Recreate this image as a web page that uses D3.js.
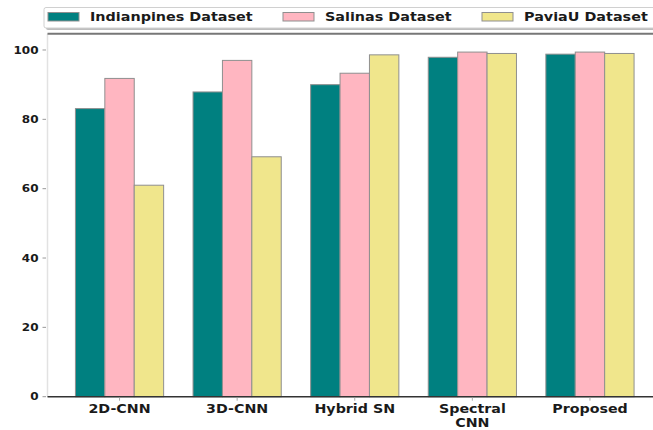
<!DOCTYPE html>
<html>
<head>
<meta charset="utf-8">
<script src="https://cdn.jsdelivr.net/npm/d3@7/dist/d3.min.js"></script>
<style>
  html, body { margin: 0; padding: 0; background: #fff; }
  svg { display: block; }
  text { font-family: "DejaVu Sans", sans-serif; font-weight: bold; fill: #1a1a1a; }
</style>
</head>
<body>
<svg id="chart" width="653" height="430"></svg>
<script>
// Accuracy (%) of each method on three hyperspectral datasets
const methods = ["2D-CNN", "3D-CNN", "Hybrid SN", "Spectral\nCNN", "Proposed"];
const seriesNames = ["Indianpines Dataset", "Salinas Dataset", "PaviaU Dataset"];
const indianpines = [83.1, 87.9, 90.0, 97.9, 98.8];
const salinas = [91.8, 97.0, 93.3, 99.4, 99.4];
const paviaU = [61.0, 69.2, 98.6, 99.0, 99.0];
const yTicks = [0, 20, 40, 60, 80, 100];
const colors = ["#008080", "#ffb6c1", "#f0e68c"];

const series = [indianpines, salinas, paviaU];
const barWidth = 0.25;
const textStretch = 1.2;

const svg = d3.select("#chart");

const x = d3.scaleLinear().domain([-0.6125, 4.6125]).range([47.5, 662]);
const y = d3.scaleLinear().domain([0, 104.7]).range([396.7, 33.7]);

// spines
svg.append("line").attr("x1", x.range()[0]).attr("x2", x.range()[0])
  .attr("y1", y.range()[0]).attr("y2", y.range()[1])
  .attr("stroke", "#e2e2e2").attr("stroke-width", 1.5);
svg.append("line").attr("x1", x.range()[0]).attr("x2", 653)
  .attr("y1", y.range()[1]).attr("y2", y.range()[1])
  .attr("stroke", "#777").attr("stroke-width", 2);

// bars
series.forEach((vals, si) => {
  svg.append("g").selectAll("rect")
    .data(vals)
    .join("rect")
    .attr("x", (d, i) => x(i + (si - 1) * barWidth - barWidth / 2))
    .attr("width", x(barWidth) - x(0))
    .attr("y", d => y(d))
    .attr("height", d => y(0) - y(d))
    .attr("fill", colors[si])
    .attr("stroke", "#8f8f8f")
    .attr("stroke-width", 1);
});

// y axis
const yAxis = svg.append("g");
yAxis.selectAll("line").data(yTicks).join("line")
  .attr("x1", x.range()[0] - 5).attr("x2", x.range()[0] - 1.5)
  .attr("y1", d => y(d)).attr("y2", d => y(d))
  .attr("stroke", "#999").attr("stroke-width", 1);
yAxis.selectAll("text").data(yTicks).join("text")
  .attr("transform", d => `translate(${x.range()[0] - 9},${y(d) + 3.6}) scale(${textStretch},1)`)
  .attr("text-anchor", "end")
  .attr("font-size", 10)
  .text(d => d);

// bottom axis line
svg.append("line").attr("x1", x.range()[0]).attr("x2", 653)
  .attr("y1", y(0)).attr("y2", y(0))
  .attr("stroke", "#333").attr("stroke-width", 1.5);

// x axis ticks and labels
const xAxis = svg.append("g");
xAxis.selectAll("line").data(methods).join("line")
  .attr("x1", (d, i) => x(i)).attr("x2", (d, i) => x(i))
  .attr("y1", y(0) + 1).attr("y2", y(0) + 4)
  .attr("stroke", "#aaa").attr("stroke-width", 1);
const labels = xAxis.selectAll("text").data(methods).join("text")
  .attr("transform", (d, i) => `translate(${x(i)},${y(0) + 16}) scale(${textStretch * 0.95},1)`)
  .attr("text-anchor", "middle")
  .attr("font-size", 12.5);
labels.each(function(d) {
  const t = d3.select(this);
  d.split("\n").forEach((line, k) => {
    t.append("tspan").attr("x", 0).attr("dy", k === 0 ? 0 : 14).text(line);
  });
});

// legend
const legend = svg.append("g");
legend.append("rect").attr("x", 46).attr("y", 10).attr("width", 640).attr("height", 20)
  .attr("rx", 2).attr("fill", "#bdbdbd");
legend.append("rect").attr("x", 44).attr("y", 7.5).attr("width", 640).attr("height", 20.5)
  .attr("rx", 2).attr("fill", "#fff").attr("stroke", "#d0d0d0").attr("stroke-width", 1);
const legendPatchX = [48, 283, 482];
seriesNames.forEach((name, si) => {
  legend.append("rect")
    .attr("x", legendPatchX[si]).attr("y", 12.5)
    .attr("width", 31).attr("height", 8.5)
    .attr("fill", colors[si]).attr("stroke", "#8f8f8f").attr("stroke-width", 1);
  legend.append("text")
    .attr("transform", `translate(${legendPatchX[si] + 42},${20.5}) scale(${textStretch + 0.05},1)`)
    .attr("font-size", 11.5)
    .text(name);
});
</script>
</body>
</html>
